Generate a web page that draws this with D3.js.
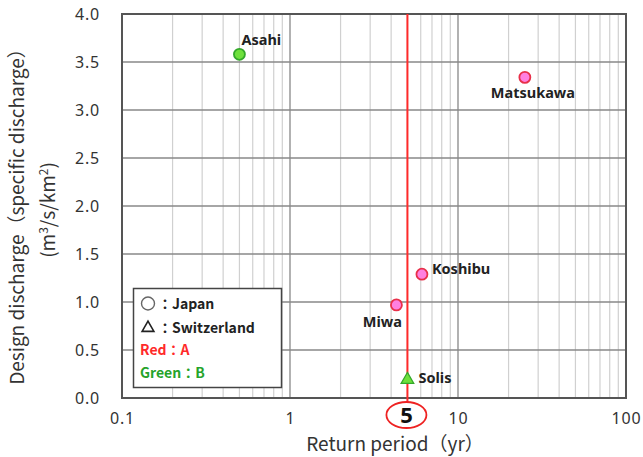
<!DOCTYPE html>
<html>
<head>
<meta charset="utf-8">
<script src="https://cdn.jsdelivr.net/npm/d3@7"></script>
<style>
  body { margin: 0; background: #fff; }
  text { font-family: "Noto Sans CJK JP", "Noto Sans", sans-serif; }
</style>
</head>
<body>
<script>
let w = 643;
let h = 457;
let padL = 122, padR = 626, padT = 14, padB = 398;

// data
let names = ["Asahi", "Matsukawa", "Koshibu", "Miwa", "Solis"];
let period = [0.5, 25, 6.1, 4.3, 5];
let discharge = [3.58, 3.34, 1.29, 0.97, 0.19];
let country = ["Japan", "Japan", "Japan", "Japan", "Switzerland"];
let group = ["B", "A", "A", "A", "B"];

let xTicks = [0.1, 1, 10, 100];
let yTicks = [0, 0.5, 1, 1.5, 2, 2.5, 3, 3.5, 4];
let threshold = 5;

let dataset = names.map((d, i) => {
  return { name: d, period: period[i], q: discharge[i], country: country[i], group: group[i] };
});

let xScale = d3.scaleLog().domain([0.1, 100]).range([padL, padR]);
let yScale = d3.scaleLinear().domain([0, 4]).range([padB, padT]);

let svg = d3.select("body")
  .append("svg")
  .attr("width", w)
  .attr("height", h);

// minor vertical grid
let minor = [];
[0.1, 1, 10].forEach((dec) => {
  for (let k = 2; k <= 9; k++) minor.push(dec * k);
});
svg.selectAll("line.minor")
  .data(minor)
  .enter()
  .append("line")
  .attr("class", "minor")
  .attr("x1", (d) => xScale(d))
  .attr("x2", (d) => xScale(d))
  .attr("y1", padT)
  .attr("y2", padB)
  .attr("stroke", "#d0d0d0")
  .attr("stroke-width", 1.2);

// major vertical grid
svg.selectAll("line.majorx")
  .data([1, 10])
  .enter()
  .append("line")
  .attr("class", "majorx")
  .attr("x1", (d) => xScale(d))
  .attr("x2", (d) => xScale(d))
  .attr("y1", padT)
  .attr("y2", padB)
  .attr("stroke", "#888")
  .attr("stroke-width", 1.3);

// horizontal grid
svg.selectAll("line.majory")
  .data(yTicks.slice(1, -1))
  .enter()
  .append("line")
  .attr("class", "majory")
  .attr("x1", padL)
  .attr("x2", padR)
  .attr("y1", (d) => yScale(d))
  .attr("y2", (d) => yScale(d))
  .attr("stroke", "#888")
  .attr("stroke-width", 1.3);

// frame
svg.append("rect")
  .attr("x", padL)
  .attr("y", padT)
  .attr("width", padR - padL)
  .attr("height", padB - padT)
  .attr("fill", "none")
  .attr("stroke", "#555")
  .attr("stroke-width", 2);

// axes (labels only)
let xAxis = d3.axisBottom(xScale)
  .tickValues(xTicks)
  .tickFormat((d) => String(d))
  .tickSize(0)
  .tickPadding(15);
let yAxis = d3.axisLeft(yScale)
  .tickValues(yTicks)
  .tickFormat(d3.format(".1f"))
  .tickSize(0)
  .tickPadding(22);

let gx = svg.append("g")
  .attr("transform", "translate(0," + padB + ")")
  .call(xAxis);
let gy = svg.append("g")
  .attr("transform", "translate(" + padL + ",0)")
  .call(yAxis);
[gx, gy].forEach((g) => {
  g.select(".domain").remove();
  g.selectAll("text")
    .attr("fill", "#333")
    .style("font-size", "16px")
    .style("letter-spacing", "0.8px")
    .style("font-family", "'Noto Sans', sans-serif");
});

// red line at threshold
svg.append("line")
  .attr("x1", xScale(threshold))
  .attr("x2", xScale(threshold))
  .attr("y1", padT)
  .attr("y2", padB + 4)
  .attr("stroke", "#ff2a2a")
  .attr("stroke-width", 2);

svg.append("ellipse")
  .attr("cx", xScale(threshold) - 1)
  .attr("cy", 415)
  .attr("rx", 20)
  .attr("ry", 13)
  .attr("fill", "#fff")
  .attr("stroke", "#ee2222")
  .attr("stroke-width", 1.8);
svg.append("text")
  .attr("x", xScale(threshold) - 1)
  .attr("y", 423)
  .attr("text-anchor", "middle")
  .attr("font-size", "22px")
  .attr("font-weight", "bold")
  .attr("fill", "#111")
  .style("font-family", "'Noto Sans', sans-serif")
  .text(threshold);

// markers
let fillC = { A: "#ff80e0", B: "#6ee03c" };
let strokeC = { A: "#e8304a", B: "#33a82a" };

svg.selectAll("circle.pt")
  .data(dataset.filter((d) => d.country == "Japan"))
  .enter()
  .append("circle")
  .attr("class", "pt")
  .attr("cx", (d) => xScale(d.period))
  .attr("cy", (d) => yScale(d.q))
  .attr("r", 5.5)
  .attr("fill", (d) => fillC[d.group])
  .attr("stroke", (d) => strokeC[d.group])
  .attr("stroke-width", 1.8);

svg.selectAll("path.pt")
  .data(dataset.filter((d) => d.country == "Switzerland"))
  .enter()
  .append("path")
  .attr("class", "pt")
  .attr("transform", (d) => "translate(" + xScale(d.period) + "," + yScale(d.q) + ")")
  .attr("d", d3.symbol(d3.symbolTriangle, 70))
  .attr("fill", (d) => fillC[d.group])
  .attr("stroke", (d) => strokeC[d.group])
  .attr("stroke-width", 1.2);

// point labels
let labelOff = {
  Asahi: [2, -14, "start"],
  Matsukawa: [8, 16, "middle"],
  Koshibu: [10, -5, "start"],
  Miwa: [-14, 17, "middle"],
  Solis: [11, -2, "start"]
};
svg.selectAll("text.lbl")
  .data(dataset)
  .enter()
  .append("text")
  .attr("class", "lbl")
  .attr("x", (d) => xScale(d.period) + labelOff[d.name][0])
  .attr("y", (d) => yScale(d.q) + labelOff[d.name][1])
  .attr("dy", "0.35em")
  .attr("text-anchor", (d) => labelOff[d.name][2])
  .attr("font-size", "14.5px")
  .attr("font-weight", "bold")
  .attr("fill", "#222")
  .style("font-family", "'Noto Sans', sans-serif")
  .text((d) => d.name);

// legend
let lg = svg.append("g");
lg.append("rect")
  .attr("x", 133.5)
  .attr("y", 288.5)
  .attr("width", 148)
  .attr("height", 99)
  .attr("fill", "#fff")
  .attr("stroke", "#444")
  .attr("stroke-width", 1.5);
lg.append("circle")
  .attr("cx", 148)
  .attr("cy", 303.5)
  .attr("r", 6.5)
  .attr("fill", "none")
  .attr("stroke", "#666")
  .attr("stroke-width", 1.4);
lg.append("path")
  .attr("transform", "translate(148,328)")
  .attr("d", d3.symbol(d3.symbolTriangle, 60))
  .attr("fill", "none")
  .attr("stroke", "#222")
  .attr("stroke-width", 1.6);
let legendTexts = [
  { t: "：Japan", x: 158, y: 304, c: "#222" },
  { t: "：Switzerland", x: 158, y: 328, c: "#222" },
  { t: "Red：A", x: 140, y: 350, c: "#ff2a2a" },
  { t: "Green：B", x: 140, y: 373, c: "#25a32a" }
];
lg.selectAll("text")
  .data(legendTexts)
  .enter()
  .append("text")
  .attr("x", (d) => d.x)
  .attr("y", (d) => d.y)
  .attr("dy", "0.35em")
  .attr("font-size", "14px")
  .attr("font-weight", "bold")
  .attr("fill", (d) => d.c)
  .text((d) => d.t);

// axis titles
svg.append("text")
  .attr("x", (padL + padR) / 2 + 21)
  .attr("y", 451)
  .attr("text-anchor", "middle")
  .attr("font-size", "19px")
  .attr("fill", "#333")
  .text("Return period（yr）");

svg.append("text")
  .attr("transform", "translate(24,212) rotate(-90)")
  .attr("text-anchor", "middle")
  .attr("font-size", "19px")
  .attr("fill", "#333")
  .text("Design discharge（specific discharge）");
svg.append("text")
  .attr("transform", "translate(55,210) rotate(-90)")
  .attr("text-anchor", "middle")
  .attr("font-size", "19px")
  .attr("fill", "#333")
  .html("(m<tspan dy='-7' font-size='12px'>3</tspan><tspan dy='7'>/s/km</tspan><tspan dy='-7' font-size='12px'>2</tspan><tspan dy='7'>)</tspan>");
</script>
</body>
</html>
